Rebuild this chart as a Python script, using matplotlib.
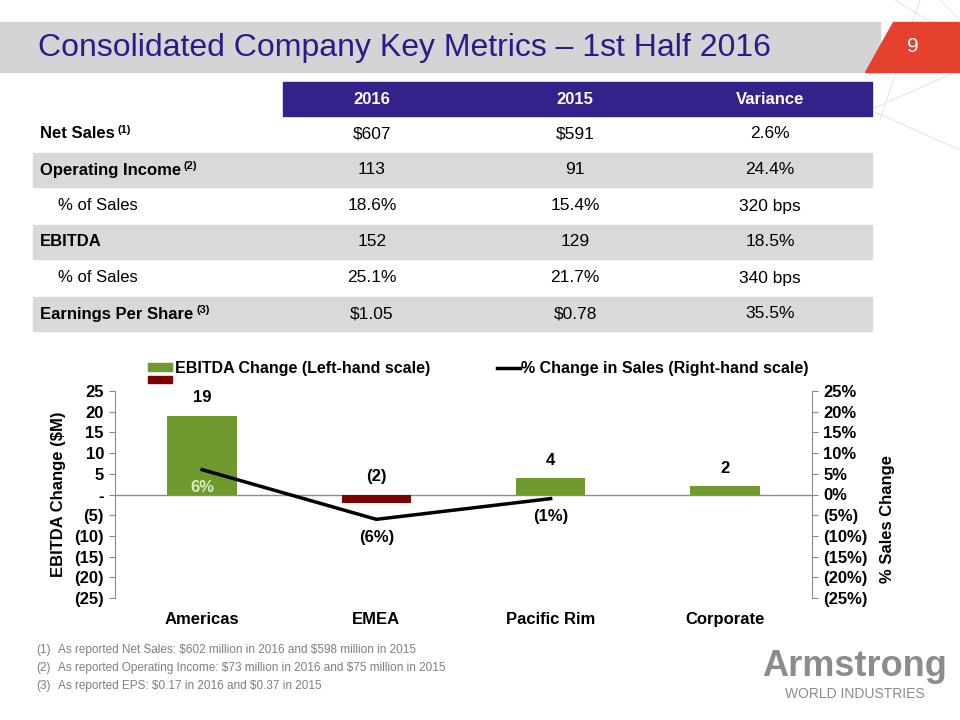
import numpy as np
import matplotlib
matplotlib.use('Agg')
import matplotlib.pyplot as plt
from matplotlib.patches import Rectangle, Polygon

# Table data
col_headers = ['2016', '2015', 'Variance']
row_labels = ['Net Sales', 'Operating Income', '% of Sales', 'EBITDA', '% of Sales', 'Earnings Per Share']
row_notes = ['(1)', '(2)', '', '', '', '(3)']
row_bold = [True, True, False, True, False, True]
values_2016 = ['$607', '113', '18.6%', '152', '25.1%', '$1.05']
values_2015 = ['$591', '91', '15.4%', '129', '21.7%', '$0.78']
variance = ['2.6%', '24.4%', '320 bps', '18.5%', '340 bps', '35.5%']

# Chart data
regions = ['Americas', 'EMEA', 'Pacific Rim', 'Corporate']
ebitda_change = [19, -2, 4, 2]
sales_change = [6, -6, -1]  # no value for Corporate
footnotes = ['As reported Net Sales: $602 million in 2016 and $598 million in 2015',
             'As reported Operating Income: $73 million in 2016 and $75 million in 2015',
             'As reported EPS: $0.17 in 2016 and $0.37 in 2015']

PURPLE = '#2E1A87'
HEADER = '#35218A'
GRAY_ROW = '#D9D9D9'
GREEN = '#6E9A2E'
DARKRED = '#7F0000'
SANS = ['Liberation Sans', 'DejaVu Sans']

plt.rcParams['font.family'] = SANS
plt.rcParams['text.parse_math'] = False

fig = plt.figure(figsize=(9.6, 7.2), dpi=100)

# background axes in pixel coordinates
bg = fig.add_axes([0, 0, 1, 1])
bg.set_xlim(0, 960)
bg.set_ylim(720, 0)
bg.axis('off')

# decorative lines top right
for seg in [((895, 0), (960, 40)), ((920, 0), (880, 120)), ((870, 110), (960, 70)),
            ((870, 110), (960, 150)), ((940, 0), (960, 20))]:
    bg.plot([seg[0][0], seg[1][0]], [seg[0][1], seg[1][1]], color='#E6E6E6', lw=0.8, zorder=0)

# title bar
bg.add_patch(Rectangle((0, 22), 880, 50, color='#D3D4D6', zorder=1))
bg.add_patch(Polygon([[893, 22], [960, 22], [960, 72], [865, 72]], closed=True, color='#E5412E', zorder=1))
bg.text(38, 48, 'Consolidated Company Key Metrics \u2013 1st Half 2016', fontsize=23,
        color=PURPLE, va='center', ha='left', zorder=2)
bg.text(913, 46, '9', fontsize=15, color='white', va='center', ha='center', zorder=2)

# table
col_x = [372, 575, 770]
bg.add_patch(Rectangle((283, 82), 589, 34, color=HEADER, zorder=1))
for cx, h in zip(col_x, col_headers):
    bg.text(cx, 99, h, color='white', fontsize=12, fontweight='bold',
            ha='center', va='center', zorder=2)

row_top = 116
row_h = 36
for i in range(len(row_labels)):
    y0 = row_top + i * row_h
    yc = y0 + row_h / 2
    if i % 2 == 1:
        bg.add_patch(Rectangle((33, y0 + 1), 839, row_h - 2, color=GRAY_ROW, zorder=1))
    if row_bold[i]:
        t = bg.text(40, yc, row_labels[i], fontsize=12, fontweight='bold', ha='left', va='center', zorder=2)
        if row_notes[i]:
            bg.annotate(row_notes[i], xy=(1, 0.5), xycoords=t, xytext=(2, -1), textcoords='offset points',
                        fontsize=8, fontweight='bold', ha='left', va='bottom', zorder=2)
    else:
        bg.text(58, yc, row_labels[i], fontsize=12, ha='left', va='center', zorder=2)
    for cx, v in zip(col_x, [values_2016[i], values_2015[i], variance[i]]):
        bg.text(cx, yc, v, fontsize=12.5, ha='center', va='center', zorder=2)

# legend (manual)
bg.add_patch(Rectangle((148, 363), 24, 8, color=GREEN, zorder=2))
bg.add_patch(Rectangle((148, 376), 24, 7, color=DARKRED, zorder=2))
bg.text(175, 368, 'EBITDA Change (Left-hand scale)', fontsize=11.5, fontweight='bold',
        ha='left', va='center', zorder=2)
bg.plot([497, 520], [368, 368], color='black', lw=2.5, zorder=2)
bg.text(521, 368, '% Change in Sales (Right-hand scale)', fontsize=11.5, fontweight='bold',
        ha='left', va='center', zorder=2)

# chart
ax = fig.add_axes([115 / 960, 122 / 720, 697 / 960, 207 / 720])
ax.patch.set_alpha(0)
x = np.arange(len(regions))
colors = [GREEN if v >= 0 else DARKRED for v in ebitda_change]
ax.bar(x, ebitda_change, width=0.4, color=colors, zorder=2)
ax.set_xlim(-0.5, 3.5)
ax.set_ylim(-25, 25)
ax.axhline(0, color='#8C8C8C', lw=1, zorder=1)
ax.set_yticks(np.arange(-25, 26, 5))


def left_fmt(v):
    if v == 0:
        return '-'
    if v < 0:
        return '(%d)' % abs(v)
    return '%d' % v


ax.set_yticklabels([left_fmt(v) for v in np.arange(-25, 26, 5)], fontsize=12, fontweight='bold')
ax.set_xticks(x)
ax.set_xticklabels(regions, fontsize=12, fontweight='bold')
ax.tick_params(axis='x', length=0, pad=10)
ax.tick_params(axis='y', length=4, color='#8C8C8C', pad=4)
for s in ['top', 'bottom', 'right']:
    ax.spines[s].set_visible(False)
ax.spines['left'].set_color('#8C8C8C')
ax.set_ylabel('EBITDA Change ($M)', fontsize=12, fontweight='bold', labelpad=6)

for xi, v in zip(x, ebitda_change):
    lbl = str(v) if v >= 0 else '(%d)' % abs(v)
    yoff = max(v, 0) + 2.5
    if v < 0:
        yoff = 2.5
    ax.text(xi, yoff, lbl, ha='center', va='bottom', fontsize=12, fontweight='bold', zorder=3)

ax2 = ax.twinx()
ax2.set_ylim(-25, 25)
ax2.plot(x[:len(sales_change)], sales_change, color='black', lw=2.5, zorder=3)
ax2.set_yticks(np.arange(-25, 26, 5))


def right_fmt(v):
    if v < 0:
        return '(%d%%)' % abs(v)
    return '%d%%' % v


ax2.set_yticklabels([right_fmt(v) for v in np.arange(-25, 26, 5)], fontsize=12, fontweight='bold')
ax2.tick_params(axis='y', length=4, color='#8C8C8C', pad=4)
for s in ['top', 'bottom', 'left']:
    ax2.spines[s].set_visible(False)
ax2.spines['right'].set_color('#8C8C8C')
ax2.set_ylabel('% Sales Change', fontsize=12, fontweight='bold')
ax2.yaxis.set_label_coords(1.097, 0.38)

# line labels
for xi, v in zip(x[:len(sales_change)], sales_change):
    lbl = '%d%%' % v if v >= 0 else '(%d%%)' % abs(v)
    col = '#DDEBC8' if v >= 0 else 'black'
    ax2.text(xi, v - 2.5, lbl, ha='center', va='top', fontsize=12, fontweight='bold',
             color=col, zorder=4)

# footnotes
for i, note in enumerate(footnotes):
    yy = 650 + i * 18
    bg.text(36, yy, '(%d)' % (i + 1), fontsize=8.5, color='#7F7F7F', va='center')
    bg.text(58, yy, note, fontsize=8.5, color='#7F7F7F', va='center')

# logo
bg.text(855, 667, 'Armstrong', fontsize=26, color='#8C8C8C', fontweight='bold',
        ha='center', va='center')
bg.text(855, 694, 'WORLD INDUSTRIES', fontsize=10, color='#8C8C8C',
        ha='center', va='center')

fig.savefig('out.png', dpi=100)
